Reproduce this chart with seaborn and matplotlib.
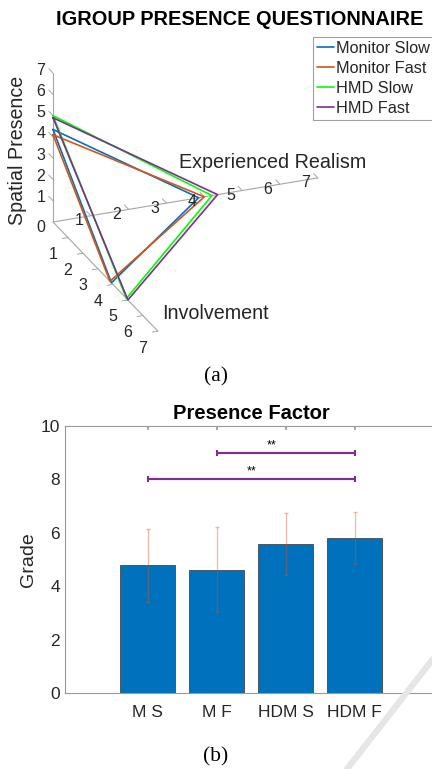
import numpy as np
import seaborn as sns
import matplotlib
matplotlib.use("Agg")
from matplotlib import pyplot as plt
from matplotlib.lines import Line2D

# IGROUP questionnaire, scale 0-7
conditions = ["Monitor Slow", "Monitor Fast", "HMD Slow", "HMD Fast"]
spatial_presence = [4.35, 4.1, 5.0, 4.9]
experienced_realism = [3.85, 4.0, 4.2, 4.35]
involvement = [3.9, 3.8, 4.9, 5.0]
line_colors = ["#0072BD", "#D95319", "#00FF00", "#7E2F8E"]
axis_ticks = [0, 1, 2, 3, 4, 5, 6, 7]

# presence factor bars
groups = ["M S", "M F", "HDM S", "HDM F"]
grade_mean = [4.78, 4.62, 5.58, 5.80]
grade_sd = [1.37, 1.60, 1.16, 0.98]
grade_ticks = [0, 2, 4, 6, 8, 10]
sig_pairs = [(0, 3), (1, 3)]
sig_height = [8, 9]
sig_label = ["**", "**"]
sig_label_x = [1.5, 1.8]

W, H = 432, 769
sns.set_theme(style="white")
plt.rcParams["font.family"] = ["Liberation Sans", "DejaVu Sans"]
txt = "#262626"
gray = "#a6a6a6"


def fx(x):
    return x / W


def fy(y):
    return 1 - y / H


fig = plt.figure(figsize=(W / 100, H / 100), dpi=100)
fig.patch.set_facecolor("white")

# ---------------- (a) 3D triangle plot ----------------
pos3 = [0.0, 0.5, 1.0, 0.5]
ax3 = fig.add_axes(pos3, projection="3d", proj_type="ortho")
ax3.patch.set_alpha(0)
ax3.view_init(elev=24.6, azim=-21.8)
lim = axis_ticks[-1]
ax3.set_xlim(0, lim)
ax3.set_ylim(0, lim)
ax3.set_zlim(0, lim)
ax3.set_xticks([])
ax3.set_yticks([])
ax3.set_zticks([])
aspect = (1.0, 1.01, 0.58)
zoom = 1.0
ax3.set_box_aspect(aspect, zoom=zoom)
ax3.set_axis_off()

# x = Involvement, y = Experienced Realism, z = Spatial Presence
ax3.plot([0, lim], [0, 0], [0, 0], color=gray, lw=0.8)
er_axis, = ax3.plot([0, 0], [0, lim], [0, 0], color=gray, lw=0.8)
ax3.plot([0, 0], [0, 0], [0, lim], color=gray, lw=0.8)
for k in axis_ticks[1:]:
    ax3.plot([0, -0.28], [0, 0], [k, k], color=gray, lw=0.7)
    ax3.plot([-0.28, 0], [k, k], [0, 0], color=gray, lw=0.7)
    ax3.plot([k, k], [0, -0.15], [0, 0], color=gray, lw=0.7)
    ax3.text(-0.28, -0.21, k, str(k), ha="center", va="center",
             fontsize=11.5, color=txt)
    ax3.text(k + 0.8, -0.71, 0, str(k), ha="center", va="center",
             fontsize=11.5, color=txt)
for k in axis_ticks:
    ax3.text(0.17, k - 0.38, 0, str(k), ha="center", va="center",
             fontsize=11.5, color=txt)

for name, sp, er, inv, c in zip(conditions, spatial_presence,
                                experienced_realism, involvement, line_colors):
    ax3.plot([0, 0, inv, 0], [0, er, 0, 0], [sp, 0, 0, sp], color=c,
             lw=1.2, label=name)

leg = ax3.legend(loc="upper left", bbox_to_anchor=(fx(313), fy(37)),
                 bbox_transform=fig.transFigure, fontsize=11.7, frameon=True,
                 fancybox=False, framealpha=1, edgecolor="#a0a0a0",
                 borderpad=0.25, labelspacing=0.3, handlelength=1.05,
                 handletextpad=0.1, borderaxespad=0)
leg.get_frame().set_linewidth(0.8)
for t in leg.get_texts():
    t.set_color(txt)

# fit the projection onto the reference origin / axis length
fig.canvas.draw()


def screen(line):
    return line.get_transform().transform(line.get_xydata())


target0 = np.array([53.0, H - 222.0])
target1 = np.array([318.0, H - 179.0])
p = screen(er_axis)
zoom *= np.linalg.norm(target1 - target0) / np.linalg.norm(p[1] - p[0])
ax3.set_box_aspect(aspect, zoom=zoom)
fig.canvas.draw()
p = screen(er_axis)
shift = (target0 - p[0]) / np.array([W, H])
ax3.set_position([pos3[0] + shift[0], pos3[1] + shift[1], pos3[2], pos3[3]])

fig.text(fx(240), fy(19.5), "IGROUP PRESENCE QUESTIONNAIRE", ha="center",
         va="center", fontsize=14.4, fontweight="bold", color="black")
fig.text(fx(18), fy(150), "Spatial Presence", rotation=90, ha="center",
         va="center", fontsize=14.1, color=txt)
fig.text(fx(273), fy(162), "Experienced Realism", ha="center", va="center",
         fontsize=14.2, color=txt)
fig.text(fx(215), fy(313), "Involvement", ha="center", va="center",
         fontsize=14.2, color=txt)
fig.text(fx(216), fy(377), "(a)", ha="center", va="center", fontsize=15.5,
         family=["Liberation Serif", "DejaVu Serif"], color="black")

# ---------------- (b) bar chart ----------------
axb = fig.add_axes([fx(65), 76 / H, 372.6 / W, 267 / H])
sns.barplot(x=groups, y=grade_mean, color="#0072BD", saturation=1, width=0.8,
            edgecolor="#333333", linewidth=0.5, errorbar=None, ax=axb)
axb.errorbar(range(len(groups)), grade_mean, yerr=grade_sd, fmt="none",
             ecolor="#D95319", alpha=0.4, elinewidth=0.9, capsize=1.5)
for (a, b), h, lab, tx in zip(sig_pairs, sig_height, sig_label, sig_label_x):
    axb.plot([a, b], [h, h], color="#7E2F8E", lw=1.6, marker="|", ms=4,
             mew=1.5, solid_capstyle="butt")
    axb.text(tx, h + 0.28, lab, ha="center", va="center", fontsize=9,
             color="black")
axb.set_xlim(-1.2, 4.2)
axb.set_ylim(0, 10)
axb.set_yticks(grade_ticks)
axb.set_title("Presence Factor", fontweight="bold", fontsize=14.5, pad=5,
              color="black")
axb.set_ylabel("Grade", fontsize=14, color=txt, labelpad=2.5)
axb.set_xlabel("")
for s in axb.spines.values():
    s.set_color("#999999")
    s.set_linewidth(0.8)
axb.tick_params(axis="x", direction="in", length=3, top=True, pad=8.5,
                labelsize=12.5, colors=txt)
axb.tick_params(axis="x", color="#999999")
axb.tick_params(axis="y", direction="in", length=3, right=False, pad=3.5,
                labelsize=12.5, colors=txt)
axb.tick_params(axis="y", color="#999999")

fig.text(fx(216), fy(757), "(b)", ha="center", va="center", fontsize=15.5,
         family=["Liberation Serif", "DejaVu Serif"], color="black")

# faint watermark stroke from the source page
fig.add_artist(Line2D([fx(347), fx(440)], [fy(769), fy(650)], color="#e6e6e6",
                      lw=4.5, transform=fig.transFigure, zorder=10))

fig.savefig("out.png", dpi=100)
